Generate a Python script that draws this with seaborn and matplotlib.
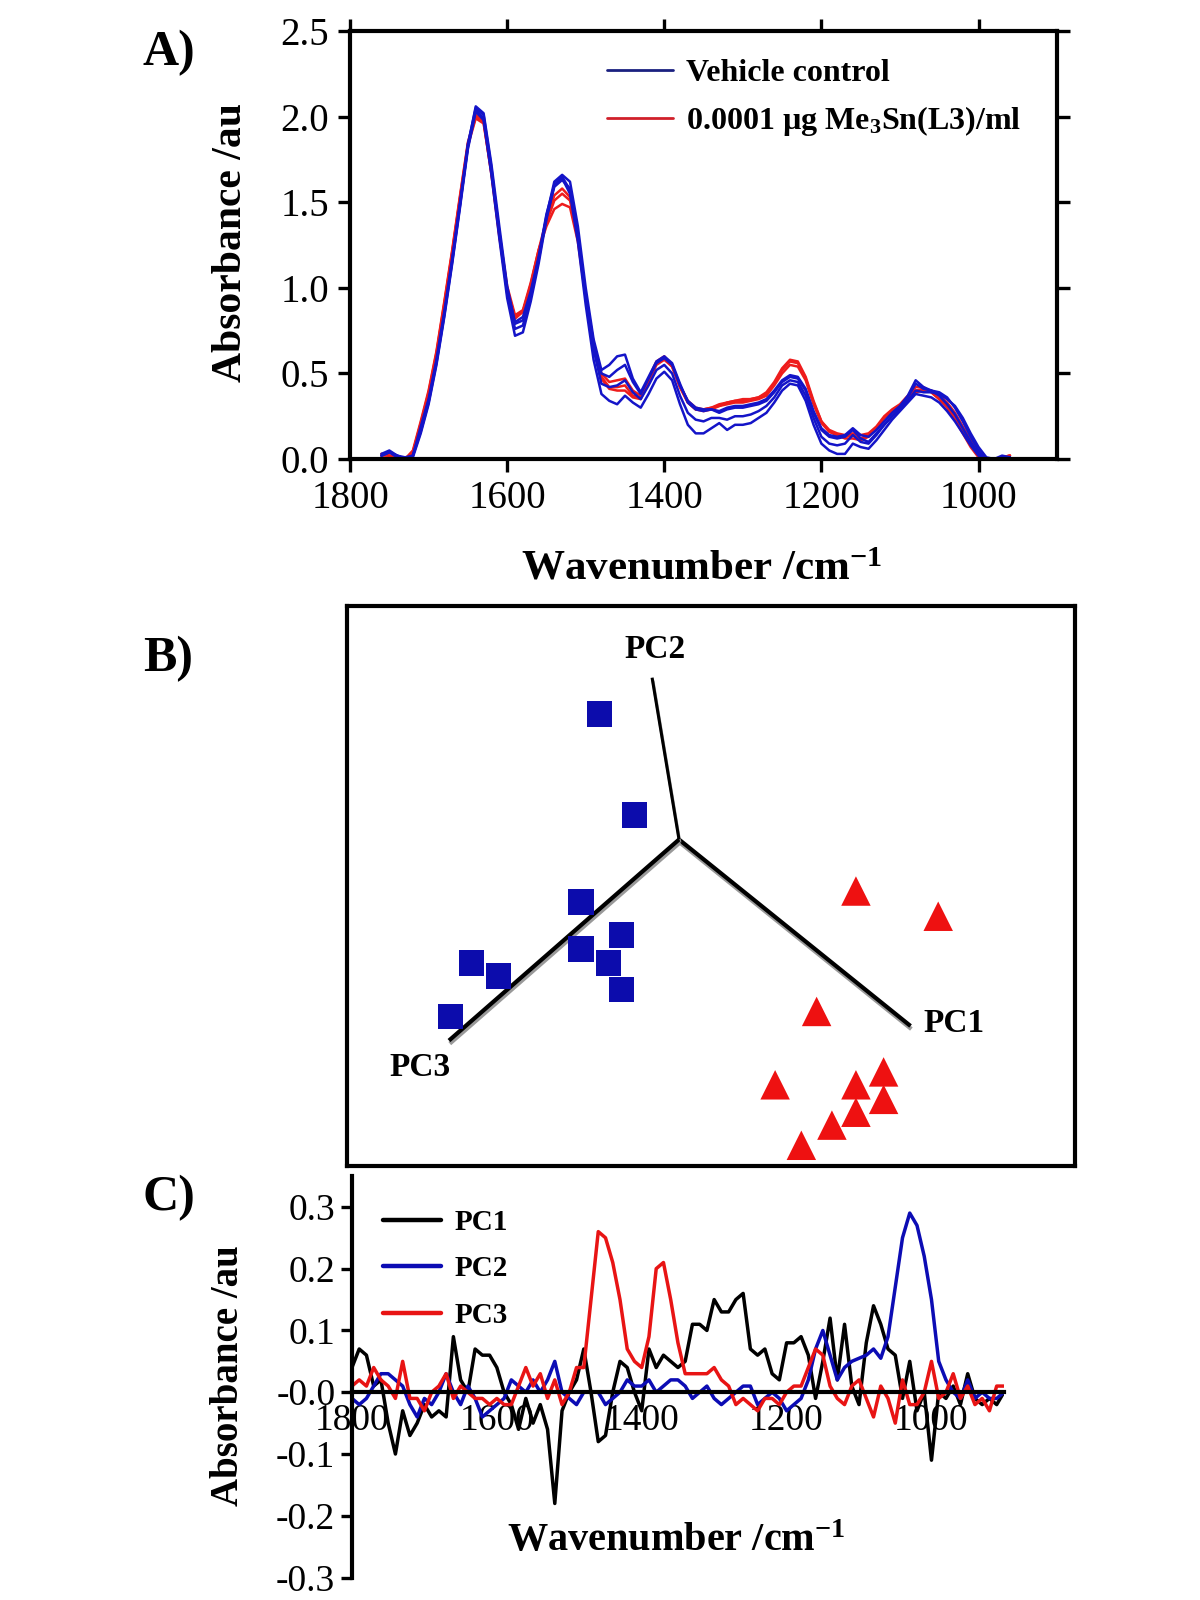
import numpy as np
import pandas as pd
import seaborn as sns
import matplotlib.pyplot as plt
import matplotlib.patheffects as pe
from matplotlib.lines import Line2D

# ---------------- data ----------------
# A) spectra, 1760 -> 960 cm-1, every 10 cm-1
wn_a = np.arange(1760, 950, -10)

ctrl_1 = [0.02, 0.04, 0.02, 0.01, 0.02, 0.19, 0.35, 0.58, 0.86, 1.16,
          1.49, 1.82, 2.04, 1.99, 1.68, 1.33, 0.99, 0.80, 0.83, 0.98,
          1.18, 1.43, 1.60, 1.65, 1.57, 1.31, 0.96, 0.68, 0.50, 0.48,
          0.52, 0.55, 0.45, 0.38, 0.47, 0.56, 0.59, 0.55, 0.43, 0.34,
          0.30, 0.29, 0.29, 0.28, 0.30, 0.31, 0.31, 0.32, 0.33, 0.35,
          0.40, 0.46, 0.49, 0.48, 0.41, 0.28, 0.18, 0.14, 0.13, 0.14,
          0.18, 0.14, 0.13, 0.17, 0.22, 0.27, 0.31, 0.37, 0.46, 0.42,
          0.40, 0.37, 0.32, 0.26, 0.18, 0.10, 0.03, 0.00, 0.00, 0.01,
          0.01]
ctrl_2 = [0.03, 0.05, 0.02, 0.00, 0.02, 0.16, 0.33, 0.56, 0.84, 1.15,
          1.48, 1.83, 2.06, 2.02, 1.72, 1.36, 1.01, 0.79, 0.81, 0.96,
          1.17, 1.42, 1.62, 1.66, 1.62, 1.36, 1.00, 0.70, 0.52, 0.55,
          0.60, 0.61, 0.47, 0.39, 0.48, 0.57, 0.60, 0.56, 0.44, 0.33,
          0.29, 0.28, 0.29, 0.27, 0.29, 0.30, 0.30, 0.31, 0.32, 0.34,
          0.39, 0.45, 0.48, 0.47, 0.40, 0.27, 0.17, 0.13, 0.12, 0.13,
          0.17, 0.12, 0.10, 0.15, 0.20, 0.25, 0.29, 0.34, 0.40, 0.39,
          0.39, 0.38, 0.35, 0.31, 0.24, 0.15, 0.07, 0.01, 0.00, 0.01,
          0.00]
ctrl_3 = [0.02, 0.04, 0.02, 0.00, 0.01, 0.15, 0.32, 0.55, 0.83, 1.14,
          1.47, 1.81, 2.03, 1.98, 1.66, 1.29, 0.94, 0.72, 0.74, 0.92,
          1.14, 1.40, 1.60, 1.64, 1.55, 1.27, 0.90, 0.58, 0.38, 0.34,
          0.32, 0.37, 0.33, 0.30, 0.38, 0.47, 0.51, 0.46, 0.32, 0.20,
          0.15, 0.15, 0.18, 0.21, 0.17, 0.20, 0.20, 0.21, 0.24, 0.27,
          0.33, 0.40, 0.44, 0.43, 0.34, 0.20, 0.09, 0.05, 0.03, 0.03,
          0.09, 0.07, 0.06, 0.11, 0.17, 0.23, 0.28, 0.33, 0.38, 0.37,
          0.36, 0.33, 0.28, 0.22, 0.15, 0.08, 0.02, 0.00, 0.00, 0.01,
          0.01]
ctrl_4 = [0.02, 0.04, 0.01, 0.00, 0.02, 0.17, 0.34, 0.57, 0.85, 1.17,
          1.50, 1.84, 2.05, 2.01, 1.70, 1.32, 0.97, 0.76, 0.78, 0.95,
          1.16, 1.41, 1.59, 1.63, 1.58, 1.32, 0.95, 0.64, 0.44, 0.42,
          0.43, 0.46, 0.39, 0.35, 0.43, 0.52, 0.55, 0.50, 0.37, 0.27,
          0.23, 0.22, 0.24, 0.24, 0.23, 0.25, 0.25, 0.26, 0.28, 0.31,
          0.36, 0.43, 0.46, 0.45, 0.37, 0.24, 0.13, 0.09, 0.08, 0.09,
          0.14, 0.10, 0.09, 0.14, 0.20, 0.25, 0.30, 0.36, 0.44, 0.41,
          0.40, 0.39, 0.36, 0.30, 0.22, 0.13, 0.05, 0.00, 0.00, 0.02,
          0.01]
trt_1 = [0.03, 0.02, 0.01, 0.00, 0.05, 0.22, 0.40, 0.63, 0.92, 1.22,
         1.54, 1.85, 2.01, 1.97, 1.66, 1.30, 0.98, 0.82, 0.86, 1.02,
         1.22, 1.40, 1.54, 1.58, 1.53, 1.30, 0.96, 0.68, 0.50, 0.45,
         0.46, 0.47, 0.40, 0.37, 0.47, 0.57, 0.60, 0.55, 0.43, 0.34,
         0.30, 0.29, 0.30, 0.31, 0.33, 0.34, 0.34, 0.35, 0.36, 0.38,
         0.44, 0.52, 0.57, 0.56, 0.47, 0.33, 0.22, 0.17, 0.15, 0.14,
         0.15, 0.14, 0.15, 0.19, 0.25, 0.29, 0.32, 0.37, 0.42, 0.42,
         0.39, 0.35, 0.30, 0.23, 0.15, 0.07, 0.01, 0.00, 0.00, 0.01,
         0.02]
trt_2 = [0.03, 0.02, 0.00, 0.00, 0.04, 0.20, 0.38, 0.61, 0.90, 1.20,
         1.52, 1.83, 1.99, 1.96, 1.67, 1.32, 1.01, 0.84, 0.87, 1.03,
         1.22, 1.36, 1.46, 1.49, 1.47, 1.27, 0.94, 0.66, 0.48, 0.42,
         0.42, 0.43, 0.37, 0.36, 0.46, 0.56, 0.59, 0.54, 0.42, 0.33,
         0.29, 0.29, 0.30, 0.32, 0.33, 0.34, 0.35, 0.35, 0.36, 0.39,
         0.45, 0.53, 0.58, 0.57, 0.48, 0.34, 0.22, 0.16, 0.14, 0.12,
         0.12, 0.11, 0.13, 0.18, 0.24, 0.28, 0.31, 0.36, 0.40, 0.41,
         0.39, 0.35, 0.31, 0.25, 0.17, 0.09, 0.02, 0.00, 0.00, 0.01,
         0.02]
trt_3 = [0.02, 0.02, 0.01, 0.00, 0.04, 0.21, 0.39, 0.62, 0.91, 1.21,
         1.53, 1.84, 2.00, 1.98, 1.68, 1.31, 0.99, 0.83, 0.86, 1.01,
         1.21, 1.38, 1.51, 1.55, 1.51, 1.29, 0.95, 0.67, 0.47, 0.41,
         0.40, 0.40, 0.36, 0.35, 0.45, 0.55, 0.58, 0.54, 0.42, 0.33,
         0.29, 0.28, 0.29, 0.31, 0.32, 0.33, 0.33, 0.34, 0.35, 0.37,
         0.43, 0.50, 0.55, 0.54, 0.46, 0.32, 0.21, 0.16, 0.14, 0.13,
         0.14, 0.12, 0.14, 0.18, 0.24, 0.28, 0.31, 0.35, 0.39, 0.40,
         0.40, 0.37, 0.33, 0.27, 0.19, 0.11, 0.03, 0.00, 0.00, 0.01,
         0.02]

# B) projected PCA scores (position inside the score-plot frame)
ctrl_pc_x = [0.347, 0.395, 0.321, 0.377, 0.321, 0.359, 0.377, 0.171, 0.208, 0.142]
ctrl_pc_y = [0.807, 0.627, 0.471, 0.412, 0.387, 0.363, 0.315, 0.363, 0.339, 0.267]
trt_pc_x = [0.699, 0.812, 0.645, 0.588, 0.737, 0.699, 0.737, 0.699, 0.666, 0.624]
trt_pc_y = [0.491, 0.446, 0.276, 0.145, 0.168, 0.145, 0.119, 0.096, 0.073, 0.037]
pc_axes = ['PC1', 'PC2', 'PC3']
pc_origin = (0.456, 0.583)
pc_end_x = [0.774, 0.419, 0.140]
pc_end_y = [0.250, 0.872, 0.224]
pc_label_x = [0.834, 0.423, 0.100]
pc_label_y = [0.255, 0.923, 0.175]

# C) loadings, 1800 -> 900 cm-1, every 10 cm-1
wn_c = np.arange(1800, 890, -10)
pc1 = [0.04, 0.07, 0.06, 0.01, 0.02, -0.05, -0.10, -0.03, -0.07, -0.05,
       -0.02, -0.04, -0.03, -0.04, 0.09, 0.02, 0.00, 0.07, 0.06, 0.06,
       0.04, 0.00, -0.02, -0.06, -0.01, -0.05, -0.02, -0.06, -0.18, -0.03,
       0.00, 0.02, 0.07, 0.00, -0.08, -0.07, 0.00, 0.05, 0.04, 0.00,
       -0.03, 0.07, 0.04, 0.06, 0.05, 0.04, 0.05, 0.11, 0.11, 0.10,
       0.15, 0.13, 0.13, 0.15, 0.16, 0.07, 0.06, 0.07, 0.03, 0.02,
       0.08, 0.08, 0.09, 0.06, -0.01, 0.05, 0.12, 0.02, 0.11, 0.01,
       -0.02, 0.08, 0.14, 0.11, 0.07, 0.06, -0.01, 0.05, -0.03, 0.00,
       -0.11, 0.00, -0.01, 0.01, -0.02, 0.03, -0.01, -0.02, -0.01, -0.02,
       0.00]
pc2 = [-0.01, -0.02, -0.01, 0.01, 0.03, 0.03, 0.02, 0.01, -0.02, -0.04,
       -0.01, -0.02, 0.00, 0.03, 0.00, -0.02, 0.01, -0.01, -0.04, -0.03,
       -0.02, -0.01, 0.02, 0.01, 0.00, 0.02, 0.00, 0.02, 0.05, 0.00,
       -0.01, -0.02, 0.00, 0.00, 0.00, -0.02, -0.01, 0.00, 0.02, 0.01,
       0.01, 0.02, 0.00, 0.01, 0.02, 0.02, 0.01, -0.01, 0.00, 0.01,
       -0.01, -0.02, -0.01, 0.00, 0.01, 0.01, -0.02, -0.01, 0.00, -0.01,
       -0.03, -0.02, -0.01, 0.02, 0.07, 0.10, 0.06, 0.02, 0.04, 0.05,
       0.055, 0.06, 0.07, 0.055, 0.09, 0.17, 0.25, 0.29, 0.27, 0.22,
       0.15, 0.05, 0.02, 0.00, -0.01, 0.02, -0.01, 0.00, -0.01, -0.01,
       0.00]
pc3 = [0.01, 0.02, 0.01, 0.04, 0.02, 0.01, -0.01, 0.05, -0.01, -0.01,
       -0.03, 0.00, 0.01, 0.03, -0.01, 0.01, 0.00, -0.01, -0.01, -0.02,
       -0.01, -0.02, -0.02, 0.01, 0.04, 0.01, 0.03, -0.01, 0.02, -0.02,
       0.00, 0.04, 0.04, 0.15, 0.26, 0.25, 0.21, 0.15, 0.07, 0.05,
       0.04, 0.09, 0.20, 0.21, 0.15, 0.08, 0.03, 0.03, 0.03, 0.03,
       0.04, 0.02, 0.01, -0.02, -0.01, -0.02, -0.03, -0.01, -0.01, -0.02,
       0.00, 0.01, 0.01, 0.04, 0.07, 0.06, 0.01, -0.01, -0.02, 0.01,
       0.02, -0.01, -0.04, 0.01, -0.01, -0.05, 0.02, -0.02, -0.02, 0.00,
       0.05, -0.01, 0.00, 0.03, -0.01, 0.01, -0.02, -0.01, -0.03, 0.01,
       0.01]
c_yticks = [-0.3, -0.2, -0.1, 0.0, 0.1, 0.2, 0.3]
c_ytick_labels = ['-0.3', '-0.2', '-0.1', '-0.0', '0.1', '0.2', '0.3']
x_ticks = [1800, 1600, 1400, 1200, 1000]

# ---------------- style ----------------
sns.set_style("ticks")
plt.rcParams['font.family'] = ['Liberation Serif', 'DejaVu Serif']
plt.rcParams['mathtext.fontset'] = 'custom'
plt.rcParams['mathtext.rm'] = 'Liberation Serif:bold'
plt.rcParams['mathtext.bf'] = 'Liberation Serif:bold'
plt.rcParams['mathtext.it'] = 'Liberation Serif:bold:italic'
plt.rcParams['axes.unicode_minus'] = False
for key in ['text.color', 'axes.labelcolor', 'xtick.color', 'ytick.color', 'axes.edgecolor']:
    plt.rcParams[key] = 'black'

BLUE = '#1414c8'
RED = '#ee1c1c'

fig = plt.figure(figsize=(12, 16), dpi=100)

# ---------------- A) ----------------
ax_a = fig.add_axes([0.2917, 0.7131, 0.5892, 0.2675])
spec = {'trt_1': trt_1, 'trt_2': trt_2, 'trt_3': trt_3,
        'ctrl_1': ctrl_1, 'ctrl_2': ctrl_2, 'ctrl_3': ctrl_3, 'ctrl_4': ctrl_4}
df_a = pd.DataFrame({
    'wavenumber': np.tile(wn_a, len(spec)),
    'absorbance': np.concatenate([spec[k] for k in spec]),
    'spectrum': np.repeat(list(spec.keys()), len(wn_a)),
})
df_a['group'] = np.where(df_a['spectrum'].str.startswith('ctrl'), 'control', 'treated')
for grp, col in [('treated', RED), ('control', BLUE)]:
    sns.lineplot(data=df_a[df_a['group'] == grp], x='wavenumber', y='absorbance',
                 units='spectrum', estimator=None, color=col, lw=1.8,
                 legend=False, ax=ax_a)

ax_a.set_xlim(1800, 900)
ax_a.set_ylim(0, 2.5)
ax_a.set_xticks(x_ticks)
ax_a.set_yticks([0, 0.5, 1.0, 1.5, 2.0, 2.5])
ax_a.set_yticklabels(['0.0', '0.5', '1.0', '1.5', '2.0', '2.5'])
ax_a.tick_params(direction='out', length=9, width=2.4, labelsize=28, pad=6,
                 top=True, right=True, labeltop=False, labelright=False)
for s in ax_a.spines.values():
    s.set_linewidth(3)
ax_a.set_xlabel('Wavenumber /cm$^{-1}$', fontsize=31, fontweight='bold')
ax_a.xaxis.set_label_coords(0.498, -0.257)
ax_a.xaxis.label.set_va('center')
ax_a.set_ylabel('Absorbance /au', fontsize=30, fontweight='bold')
ax_a.yaxis.set_label_coords(-0.168, 0.507)
ax_a.yaxis.label.set_va('center')

handles_a = [Line2D([], [], color='#1a2080', lw=2),
             Line2D([], [], color='#d0202a', lw=2)]
ax_a.legend(handles_a, ['Vehicle control', '0.0001 \u00b5g Me$_3$Sn(L3)/ml'],
            loc='upper left', bbox_to_anchor=(0.3635, 0.935), frameon=False,
            prop={'size': 23, 'weight': 'bold'}, handlelength=2.05,
            handletextpad=0.42, labelspacing=0.5, borderpad=0, borderaxespad=0)

# ---------------- B) ----------------
ax_b = fig.add_axes([0.2892, 0.27125, 0.6067, 0.35])
df_b = pd.DataFrame({
    'x': ctrl_pc_x + trt_pc_x,
    'y': ctrl_pc_y + trt_pc_y,
    'group': ['control'] * len(ctrl_pc_x) + ['treated'] * len(trt_pc_x),
})
shadow = [pe.SimpleLineShadow(offset=(0.6, -2.2), shadow_color='0.6', alpha=1),
          pe.Normal()]
for name, ex, ey in zip(pc_axes, pc_end_x, pc_end_y):
    lw = 2.2 if name == 'PC2' else 3
    ax_b.plot([pc_origin[0], ex], [pc_origin[1], ey], color='black', lw=lw,
              solid_capstyle='butt', path_effects=shadow, zorder=1)
for name, lx, ly in zip(pc_axes, pc_label_x, pc_label_y):
    ax_b.text(lx, ly, name, fontsize=24, fontweight='bold', ha='center', va='center')
sns.scatterplot(data=df_b, x='x', y='y', hue='group', style='group',
                palette={'control': '#0c0cac', 'treated': '#ee1111'},
                markers={'control': 's', 'treated': '^'},
                size='group', sizes={'control': 340, 'treated': 450},
                linewidth=0, legend=False, zorder=3, ax=ax_b)
ax_b.set_xlim(0, 1)
ax_b.set_ylim(0, 1)
ax_b.set_xticks([])
ax_b.set_yticks([])
ax_b.set_xlabel('')
ax_b.set_ylabel('')
for s in ax_b.spines.values():
    s.set_linewidth(3)

# ---------------- C) ----------------
ax_c = fig.add_axes([0.2933, 0.0140, 0.5433, 0.2510])
df_c = pd.DataFrame({
    'wavenumber': np.tile(wn_c, 3),
    'loading': np.concatenate([pc1, pc2, pc3]),
    'component': np.repeat(pc_axes, len(wn_c)),
})
pc_colors = {'PC1': 'black', 'PC2': '#0c0cb4', 'PC3': '#e81414'}
sns.lineplot(data=df_c, x='wavenumber', y='loading', hue='component',
             palette=pc_colors, lw=2.5, legend=False, ax=ax_c)
ax_c.set_xlim(1800, 900)
ax_c.set_ylim(-0.3, 0.35)
ax_c.spines['top'].set_visible(False)
ax_c.spines['right'].set_visible(False)
ax_c.spines['bottom'].set_position(('data', 0))
ax_c.spines['bottom'].set_zorder(5)
ax_c.spines['bottom'].set_linewidth(3)
ax_c.spines['left'].set_linewidth(3)
ax_c.set_xticks(x_ticks)
ax_c.set_yticks(c_yticks)
ax_c.set_yticklabels(c_ytick_labels)
ax_c.tick_params(axis='x', length=0, labelsize=27, pad=8)
ax_c.tick_params(axis='y', direction='out', length=8, width=2.4, labelsize=27, pad=4)
ax_c.set_xlabel('Wavenumber /cm$^{-1}$', fontsize=29, fontweight='bold')
ax_c.xaxis.set_label_coords(0.498, 0.090)
ax_c.xaxis.label.set_va('center')
ax_c.set_ylabel('Absorbance /au', fontsize=28, fontweight='bold')
ax_c.yaxis.set_label_coords(-0.19, 0.504)
ax_c.yaxis.label.set_va('center')
handles_c = [Line2D([], [], color=pc_colors[k], lw=3.2) for k in pc_axes]
ax_c.legend(handles_c, pc_axes, loc='upper left', bbox_to_anchor=(0.0475, 0.918),
            frameon=False, prop={'size': 21, 'weight': 'bold'}, handlelength=2.0,
            handletextpad=0.45, labelspacing=0.67, borderpad=0, borderaxespad=0)

# panel letters
for letter, y in [('A)', 0.967), ('B)', 0.588), ('C)', 0.251)]:
    fig.text(0.119, y, letter, fontsize=36, fontweight='bold', ha='left', va='center')

fig.savefig('out.png', dpi=100)
